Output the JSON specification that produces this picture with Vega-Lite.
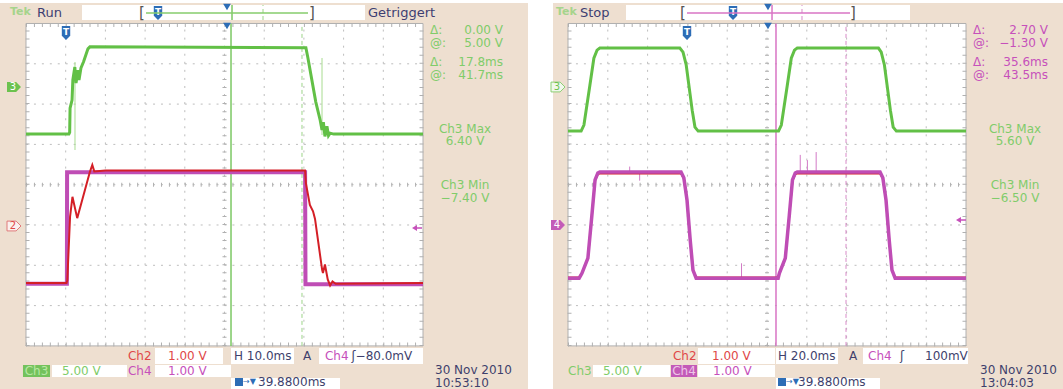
{
"$schema":"https://vega.github.io/schema/vega-lite/v6.json",
"background":"#ffffff",
"padding":0,
"autosize":{"type":"pad"},
"bounds":"flush",
"spacing":23,
"config":{"view":{"stroke":null},"font":"DejaVu Sans"},
"hconcat":[
{
"width":530,"height":389,
"encoding":{"x":{"field":"x","type":"quantitative","scale":{"domain":[-0.6549,12.695],"nice":false,"zero":false},"axis":null},"y":{"field":"y","type":"quantitative","scale":{"domain":[-5.0695,4.5831],"nice":false,"zero":false},"axis":null}},
"layer":[
{"data":{"values":[{"x":-0.6549,"x2":12.645,"y":-5.0695,"y2":4.509}]},"mark":{"type":"rect","color":"#eedfd0"},"encoding":{"x2":{"field":"x2"},"y2":{"field":"y2"}}},
{"data":{"values":[{"x":1.411,"x2":8.539,"y":4.087,"y2":4.459},{"x":3.249,"x2":4.962,"y":-4.449,"y2":-4.052},{"x":5.164,"x2":6.751,"y":-4.449,"y2":-4.052},{"x":7.38,"x2":10.0,"y":-4.449,"y2":-4.052},{"x":0.655,"x2":2.544,"y":-4.772,"y2":-4.474},{"x":3.249,"x2":5.164,"y":-4.772,"y2":-4.474},{"x":5.164,"x2":7.909,"y":-5.0695,"y2":-4.797}]},"mark":{"type":"rect","color":"#ffffff"},"encoding":{"x2":{"field":"x2"},"y2":{"field":"y2"}}},
{"data":{"values":[{"x":-0.076,"x2":0.605,"y":-4.772,"y2":-4.474}]},"mark":{"type":"rect","color":"#74c25c"},"encoding":{"x2":{"field":"x2"},"y2":{"field":"y2"}}},
{"data":{"values":[{"x":0,"x2":10,"y":-4,"y2":4}]},"mark":{"type":"rect","fill":"#ffffff","stroke":"#b0b0b0","strokeWidth":1},"encoding":{"x2":{"field":"x2"},"y2":{"field":"y2"}}},
{"data":{"values":[{"x":1,"y":-4,"y2":4},{"x":2,"y":-4,"y2":4},{"x":3,"y":-4,"y2":4},{"x":4,"y":-4,"y2":4},{"x":5,"y":-4,"y2":4},{"x":6,"y":-4,"y2":4},{"x":7,"y":-4,"y2":4},{"x":8,"y":-4,"y2":4},{"x":9,"y":-4,"y2":4}]},"mark":{"type":"rule","color":"#bdbdbd","strokeDash":[2,6.06]},"encoding":{"y2":{"field":"y2"}}},
{"data":{"values":[{"y":-3,"x":0,"x2":10},{"y":-2,"x":0,"x2":10},{"y":-1,"x":0,"x2":10},{"y":0,"x":0,"x2":10},{"y":1,"x":0,"x2":10},{"y":2,"x":0,"x2":10},{"y":3,"x":0,"x2":10}]},"mark":{"type":"rule","color":"#bdbdbd","strokeDash":[2,5.94]},"encoding":{"x2":{"field":"x2"}}},
{"data":{"values":[{"y":0,"x":0,"x2":10},{"y":3.963,"x":0,"x2":10},{"y":-3.963,"x":0,"x2":10}]},"mark":{"type":"rule","color":"#b0b0b0","strokeWidth":4,"strokeDash":[1,6.94]},"encoding":{"x2":{"field":"x2"}}},
{"data":{"values":[{"x":5,"y":-4,"y2":4},{"x":0.038,"y":-4,"y2":4},{"x":9.962,"y":-4,"y2":4}]},"mark":{"type":"rule","color":"#b0b0b0","strokeWidth":4,"strokeDash":[1,7.06]},"encoding":{"y2":{"field":"y2"}}},
{"data":{"values":[{"x":5.164,"y":-4,"y2":4},{"x":5.189,"y":4.087,"y2":4.459}]},"mark":{"type":"rule","color":"#7cc864","strokeWidth":1.5},"encoding":{"y2":{"field":"y2"}}},
{"data":{"values":[{"x":6.952,"y":-4,"y2":4},{"x":5.97,"y":4.087,"y2":4.459}]},"mark":{"type":"rule","color":"#9cd488","strokeWidth":1,"strokeDash":[4,3]},"encoding":{"y2":{"field":"y2"}}},
{"data":{"values":[{"x":1.234,"y":0.861,"y2":3.045},{"x":7.456,"y":1.233,"y2":3.144}]},"mark":{"type":"rule","color":"#a8dc90","strokeWidth":1},"encoding":{"y2":{"field":"y2"}}},
{"data":{"values":[{"x":0,"y":-2.46},{"x":1.03,"y":-2.46},{"x":1.035,"y":0.31},{"x":7.03,"y":0.31},{"x":7.04,"y":-2.47},{"x":10,"y":-2.47}]},"mark":{"type":"line","color":"#bf4db5","strokeWidth":4},"encoding":{"order":{"value":null}}},
{"data":{"values":[{"x":0,"y":-2.44},{"x":1.02,"y":-2.44},{"x":1.04,"y":-2.38},{"x":1.11,"y":-0.79},{"x":1.17,"y":-0.3},{"x":1.29,"y":-0.83},{"x":1.61,"y":0.32},{"x":1.67,"y":0.49},{"x":1.72,"y":0.33},{"x":2.0,"y":0.35},{"x":7.03,"y":0.35},{"x":7.05,"y":0.04},{"x":7.15,"y":-0.5},{"x":7.23,"y":-0.66},{"x":7.28,"y":-0.85},{"x":7.46,"y":-2.12},{"x":7.48,"y":-2.19},{"x":7.53,"y":-1.98},{"x":7.6,"y":-2.35},{"x":7.66,"y":-2.5},{"x":7.72,"y":-2.4},{"x":7.8,"y":-2.46},{"x":10,"y":-2.44}]},"mark":{"type":"line","color":"#d41f26","strokeWidth":2},"encoding":{"order":{"value":null}}},
{"data":{"values":[{"x":0,"y":1.256},{"x":1.08,"y":1.256},{"x":1.1,"y":1.3},{"x":1.11,"y":1.9},{"x":1.16,"y":2.1},{"x":1.18,"y":2.6},{"x":1.23,"y":2.92},{"x":1.26,"y":2.52},{"x":1.31,"y":2.84},{"x":1.335,"y":2.6},{"x":1.385,"y":2.9},{"x":1.45,"y":3.05},{"x":1.56,"y":3.37},{"x":1.61,"y":3.42},{"x":7.05,"y":3.4},{"x":7.1,"y":3.15},{"x":7.3,"y":2.05},{"x":7.41,"y":1.6},{"x":7.456,"y":1.36},{"x":7.49,"y":1.55},{"x":7.53,"y":1.2},{"x":7.58,"y":1.45},{"x":7.62,"y":1.22},{"x":7.66,"y":1.28},{"x":7.75,"y":1.256},{"x":10,"y":1.256}]},"mark":{"type":"line","color":"#62c046","strokeWidth":3},"encoding":{"order":{"value":null}}},
{"data":{"values":[{"x":1.008,"y":3.764},{"x":3.325,"y":4.261}]},"mark":{"type":"point","shape":"M-0.6,-1L0.6,-1L0.6,0.4L0,1L-0.6,0.4Z","size":196,"filled":true,"color":"#2d6db6","opacity":1}},
{"data":{"values":[{"x":1.008,"y":3.8,"t":"T"},{"x":3.325,"y":4.297,"t":"T"}]},"mark":{"type":"text","color":"#ffffff","fontSize":9,"fontWeight":"bold","baseline":"middle","align":"center"},"encoding":{"text":{"field":"t"}}},
{"data":{"values":[{"x":5.063,"y":3.938},{"x":5.063,"y":4.409}]},"mark":{"type":"point","shape":"triangle-down","size":60,"filled":true,"color":"#2d6db6","opacity":1}},
{"data":{"values":[{"x":3.023,"x2":7.103,"y":4.261}]},"mark":{"type":"rule","color":"#86cc6c","strokeWidth":1.5},"encoding":{"x2":{"field":"x2"}}},
{"data":{"values":[{"x":2.922,"y":4.261,"t":"["},{"x":7.204,"y":4.261,"t":"]"}]},"mark":{"type":"text","color":"#555555","fontSize":15,"baseline":"middle","align":"center"},"encoding":{"text":{"field":"t"}}},
{"data":{"values":[{"x":-0.302,"y":2.424}]},"mark":{"type":"point","shape":"M-1,-0.7L0.3,-0.7L1,0L0.3,0.7L-1,0.7Z","size":196,"filled":true,"color":"#6cc24e","opacity":1}},
{"data":{"values":[{"x":-0.302,"y":-1.025}]},"mark":{"type":"point","shape":"M-1,-0.7L0.3,-0.7L1,0L0.3,0.7L-1,0.7Z","size":196,"filled":true,"fill":"#fbf0ee","stroke":"#e07a7a","strokeWidth":1,"opacity":1}},
{"data":{"values":[{"x":9.849,"y":-1.074}]},"mark":{"type":"point","shape":"M1,-0.15L0,-0.15L0,-0.6L-1,0L0,0.6L0,0.15L1,0.15Z","size":100,"filled":true,"color":"#c650bb","opacity":1}},
{"data":{"values":[{"x":-0.33,"y":2.424,"t":"3"}]},"mark":{"type":"text","color":"#ffffff","fontSize":10,"baseline":"middle","align":"center"},"encoding":{"text":{"field":"t"}}},
{"data":{"values":[{"x":-0.33,"y":-1.025,"t":"2"}]},"mark":{"type":"text","color":"#e04848","fontSize":10,"baseline":"middle","align":"center"},"encoding":{"text":{"field":"t"}}},
{"data":{"values":[{"x":0.264,"y":-4.623,"t":"Ch3"}]},"mark":{"type":"text","color":"#b8e8a4","fontSize":12,"baseline":"middle","align":"center"},"encoding":{"text":{"field":"t"}}},
{"data":{"values":[{"x":5.365,"y":-4.896}]},"mark":{"type":"point","shape":"square","size":64,"filled":true,"color":"#2d6db6","opacity":1}},
{"data":{"values":[{"x":5.466,"y":-4.896,"t":"→▼"}]},"mark":{"type":"text","color":"#2d6db6","fontSize":8,"baseline":"middle","align":"left"},"encoding":{"text":{"field":"t"}}},
{"data":{"values":[{"x":-0.403,"y":4.285,"t":"Tek"}]},"mark":{"type":"text","color":"#a6d48c","fontSize":11,"fontWeight":"bold","baseline":"middle","align":"left"},"encoding":{"text":{"field":"t"}}},
{"data":{"values":[{"x":0.277,"y":4.261,"t":"Run"},{"x":8.615,"y":4.261,"t":"Getriggert"}]},"mark":{"type":"text","color":"#3d3e72","fontSize":13,"baseline":"middle","align":"left"},"encoding":{"text":{"field":"t"}}},
{"data":{"values":[{"x":10.176,"y":3.839,"t":"Δ:","ch":"Ch3"},{"x":10.176,"y":3.516,"t":"@:","ch":"Ch3"},{"x":10.176,"y":3.045,"t":"Δ:","ch":"Ch3"},{"x":10.176,"y":2.722,"t":"@:","ch":"Ch3"},{"x":2.569,"y":-4.251,"t":"Ch2","ch":"Ch2"},{"x":3.577,"y":-4.251,"t":"1.00 V","ch":"Ch2"},{"x":5.239,"y":-4.251,"t":"H 10.0ms","ch":"ui"},{"x":6.977,"y":-4.251,"t":"A","ch":"ui"},{"x":7.531,"y":-4.251,"t":"Ch4","ch":"Ch4"},{"x":8.2,"y":-4.251,"t":"ʃ−80.0mV","ch":"ui"},{"x":0.907,"y":-4.623,"t":"5.00 V","ch":"Ch3"},{"x":2.569,"y":-4.623,"t":"Ch4","ch":"Ch4"},{"x":3.577,"y":-4.623,"t":"1.00 V","ch":"Ch4"},{"x":10.302,"y":-4.598,"t":"30 Nov 2010","ch":"ui"},{"x":5.844,"y":-4.896,"t":"39.8800ms","ch":"ui"},{"x":10.302,"y":-4.92,"t":"10:53:10","ch":"ui"}]},"mark":{"type":"text","align":"left","baseline":"middle","fontSize":12},"encoding":{"text":{"field":"t"},"color":{"field":"ch","type":"nominal","scale":{"domain":["Ch2","Ch3","Ch4","ui"],"range":["#e04848","#80cc6a","#c650bb","#3e3f6c"]},"legend":null}}},
{"data":{"values":[{"x":12.015,"y":3.839,"t":"0.00 V","ch":"Ch3"},{"x":12.015,"y":3.516,"t":"5.00 V","ch":"Ch3"},{"x":12.015,"y":3.045,"t":"17.8ms","ch":"Ch3"},{"x":12.015,"y":2.722,"t":"41.7ms","ch":"Ch3"}]},"mark":{"type":"text","align":"right","baseline":"middle","fontSize":12},"encoding":{"text":{"field":"t"},"color":{"field":"ch","type":"nominal","scale":{"domain":["Ch2","Ch3","Ch4","ui"],"range":["#e04848","#80cc6a","#c650bb","#3e3f6c"]},"legend":null}}},
{"data":{"values":[{"x":11.058,"y":1.382,"t":"Ch3 Max","ch":"Ch3"},{"x":11.058,"y":1.084,"t":"6.40 V","ch":"Ch3"},{"x":11.058,"y":-0.007,"t":"Ch3 Min","ch":"Ch3"},{"x":11.058,"y":-0.33,"t":"−7.40 V","ch":"Ch3"}]},"mark":{"type":"text","align":"center","baseline":"middle","fontSize":12},"encoding":{"text":{"field":"t"},"color":{"field":"ch","type":"nominal","scale":{"domain":["Ch2","Ch3","Ch4","ui"],"range":["#e04848","#80cc6a","#c650bb","#3e3f6c"]},"legend":null}}}
]
},
{
"width":510,"height":389,
"encoding":{"x":{"field":"x","type":"quantitative","scale":{"domain":[-0.3769,12.437],"nice":false,"zero":false},"axis":null},"y":{"field":"y","type":"quantitative","scale":{"domain":[-5.0695,4.5831],"nice":false,"zero":false},"axis":null}},
"layer":[
{"data":{"values":[{"x":-0.3769,"x2":12.437,"y":-5.0695,"y2":4.509}]},"mark":{"type":"rect","color":"#eedfd0"},"encoding":{"x2":{"field":"x2"},"y2":{"field":"y2"}}},
{"data":{"values":[{"x":1.457,"x2":8.593,"y":4.087,"y2":4.459},{"x":3.266,"x2":5.201,"y":-4.449,"y2":-4.052},{"x":5.226,"x2":6.784,"y":-4.449,"y2":-4.052},{"x":7.412,"x2":10.05,"y":-4.449,"y2":-4.052},{"x":0.628,"x2":2.563,"y":-4.772,"y2":-4.474},{"x":3.266,"x2":5.201,"y":-4.772,"y2":-4.474},{"x":5.226,"x2":7.839,"y":-5.0695,"y2":-4.797}]},"mark":{"type":"rect","color":"#ffffff"},"encoding":{"x2":{"field":"x2"},"y2":{"field":"y2"}}},
{"data":{"values":[{"x":2.588,"x2":3.241,"y":-4.772,"y2":-4.474}]},"mark":{"type":"rect","color":"#c35bb8"},"encoding":{"x2":{"field":"x2"},"y2":{"field":"y2"}}},
{"data":{"values":[{"x":0,"x2":10,"y":-4,"y2":4}]},"mark":{"type":"rect","fill":"#ffffff","stroke":"#b0b0b0","strokeWidth":1},"encoding":{"x2":{"field":"x2"},"y2":{"field":"y2"}}},
{"data":{"values":[{"x":1,"y":-4,"y2":4},{"x":2,"y":-4,"y2":4},{"x":3,"y":-4,"y2":4},{"x":4,"y":-4,"y2":4},{"x":5,"y":-4,"y2":4},{"x":6,"y":-4,"y2":4},{"x":7,"y":-4,"y2":4},{"x":8,"y":-4,"y2":4},{"x":9,"y":-4,"y2":4}]},"mark":{"type":"rule","color":"#bdbdbd","strokeDash":[2,6.06]},"encoding":{"y2":{"field":"y2"}}},
{"data":{"values":[{"y":-3,"x":0,"x2":10},{"y":-2,"x":0,"x2":10},{"y":-1,"x":0,"x2":10},{"y":0,"x":0,"x2":10},{"y":1,"x":0,"x2":10},{"y":2,"x":0,"x2":10},{"y":3,"x":0,"x2":10}]},"mark":{"type":"rule","color":"#bdbdbd","strokeDash":[2,5.96]},"encoding":{"x2":{"field":"x2"}}},
{"data":{"values":[{"y":0,"x":0,"x2":10},{"y":3.963,"x":0,"x2":10},{"y":-3.963,"x":0,"x2":10}]},"mark":{"type":"rule","color":"#b0b0b0","strokeWidth":4,"strokeDash":[1,6.96]},"encoding":{"x2":{"field":"x2"}}},
{"data":{"values":[{"x":5,"y":-4,"y2":4},{"x":0.038,"y":-4,"y2":4},{"x":9.962,"y":-4,"y2":4}]},"mark":{"type":"rule","color":"#b0b0b0","strokeWidth":4,"strokeDash":[1,7.06]},"encoding":{"y2":{"field":"y2"}}},
{"data":{"values":[{"x":5.226,"y":-4,"y2":4},{"x":5.126,"y":4.087,"y2":4.459}]},"mark":{"type":"rule","color":"#d874c4","strokeWidth":1.5},"encoding":{"y2":{"field":"y2"}}},
{"data":{"values":[{"x":6.985,"y":-4,"y2":4},{"x":5.879,"y":4.087,"y2":4.459}]},"mark":{"type":"rule","color":"#d88ac8","strokeWidth":1,"strokeDash":[4,3]},"encoding":{"y2":{"field":"y2"}}},
{"data":{"values":[{"x":5.835,"y":0.315,"y2":0.74},{"x":6.015,"y":0.315,"y2":0.61},{"x":6.235,"y":0.315,"y2":0.81},{"x":4.36,"y":-2.32,"y2":-1.95},{"x":1.55,"y":0.315,"y2":0.45},{"x":1.8,"y":0.315,"y2":0.1}]},"mark":{"type":"rule","color":"#d27ac6","strokeWidth":1},"encoding":{"y2":{"field":"y2"}}},
{"data":{"values":[{"x":0,"y":-2.3},{"x":0.28,"y":-2.3},{"x":0.35,"y":-2.2},{"x":0.5,"y":-1.82},{"x":0.6,"y":-0.76},{"x":0.68,"y":0.1},{"x":0.75,"y":0.26},{"x":0.8,"y":0.28},{"x":2.84,"y":0.28},{"x":2.91,"y":0.15},{"x":2.99,"y":-0.38},{"x":3.07,"y":-1.37},{"x":3.14,"y":-2.12},{"x":3.22,"y":-2.3},{"x":5.28,"y":-2.3},{"x":5.31,"y":-2.2},{"x":5.46,"y":-1.82},{"x":5.56,"y":-0.76},{"x":5.64,"y":0.1},{"x":5.71,"y":0.26},{"x":5.76,"y":0.28},{"x":7.84,"y":0.28},{"x":7.91,"y":0.15},{"x":7.99,"y":-0.38},{"x":8.07,"y":-1.37},{"x":8.14,"y":-2.12},{"x":8.22,"y":-2.3},{"x":10,"y":-2.3}]},"mark":{"type":"line","color":"#d41f26","strokeWidth":2},"encoding":{"order":{"value":null}}},
{"data":{"values":[{"x":0,"y":-2.32},{"x":0.28,"y":-2.32},{"x":0.35,"y":-2.2},{"x":0.5,"y":-1.82},{"x":0.6,"y":-0.76},{"x":0.68,"y":0.12},{"x":0.75,"y":0.29},{"x":0.8,"y":0.315},{"x":2.84,"y":0.315},{"x":2.91,"y":0.17},{"x":2.99,"y":-0.38},{"x":3.07,"y":-1.37},{"x":3.14,"y":-2.12},{"x":3.22,"y":-2.32},{"x":5.28,"y":-2.32},{"x":5.31,"y":-2.2},{"x":5.46,"y":-1.82},{"x":5.56,"y":-0.76},{"x":5.64,"y":0.12},{"x":5.71,"y":0.29},{"x":5.76,"y":0.315},{"x":7.84,"y":0.315},{"x":7.91,"y":0.17},{"x":7.99,"y":-0.38},{"x":8.07,"y":-1.37},{"x":8.14,"y":-2.12},{"x":8.22,"y":-2.32},{"x":10,"y":-2.32}]},"mark":{"type":"line","color":"#bf4db5","strokeWidth":3.5},"encoding":{"order":{"value":null}}},
{"data":{"values":[{"x":0,"y":1.33},{"x":0.33,"y":1.33},{"x":0.4,"y":1.48},{"x":0.55,"y":2.47},{"x":0.65,"y":3.14},{"x":0.73,"y":3.34},{"x":0.8,"y":3.39},{"x":2.81,"y":3.39},{"x":2.89,"y":3.29},{"x":2.97,"y":2.97},{"x":3.12,"y":1.85},{"x":3.19,"y":1.43},{"x":3.27,"y":1.33},{"x":5.29,"y":1.33},{"x":5.36,"y":1.48},{"x":5.51,"y":2.47},{"x":5.61,"y":3.14},{"x":5.69,"y":3.34},{"x":5.76,"y":3.39},{"x":7.8,"y":3.39},{"x":7.87,"y":3.29},{"x":7.95,"y":2.97},{"x":8.1,"y":1.85},{"x":8.17,"y":1.43},{"x":8.25,"y":1.33},{"x":10,"y":1.33}]},"mark":{"type":"line","color":"#62c046","strokeWidth":3},"encoding":{"order":{"value":null}}},
{"data":{"values":[{"x":2.99,"y":3.764},{"x":4.146,"y":4.261}]},"mark":{"type":"point","shape":"M-0.6,-1L0.6,-1L0.6,0.4L0,1L-0.6,0.4Z","size":196,"filled":true,"color":"#2d6db6","opacity":1}},
{"data":{"values":[{"x":2.99,"y":3.8,"t":"T"},{"x":4.146,"y":4.297,"t":"T"}]},"mark":{"type":"text","color":"#ffffff","fontSize":9,"fontWeight":"bold","baseline":"middle","align":"center"},"encoding":{"text":{"field":"t"}}},
{"data":{"values":[{"x":5.025,"y":3.938},{"x":5.025,"y":4.409}]},"mark":{"type":"point","shape":"triangle-down","size":60,"filled":true,"color":"#2d6db6","opacity":1}},
{"data":{"values":[{"x":2.99,"x2":7.085,"y":4.261}]},"mark":{"type":"rule","color":"#d874c4","strokeWidth":1.5},"encoding":{"x2":{"field":"x2"}}},
{"data":{"values":[{"x":2.889,"y":4.261,"t":"["},{"x":7.161,"y":4.261,"t":"]"}]},"mark":{"type":"text","color":"#555555","fontSize":15,"baseline":"middle","align":"center"},"encoding":{"text":{"field":"t"}}},
{"data":{"values":[{"x":-0.251,"y":2.424}]},"mark":{"type":"point","shape":"M-1,-0.7L0.3,-0.7L1,0L0.3,0.7L-1,0.7Z","size":196,"filled":true,"fill":"#f1f8ec","stroke":"#8ccf74","strokeWidth":1,"opacity":1}},
{"data":{"values":[{"x":-0.251,"y":-1.0}]},"mark":{"type":"point","shape":"M-1,-0.7L0.3,-0.7L1,0L0.3,0.7L-1,0.7Z","size":196,"filled":true,"color":"#c35bb8","opacity":1}},
{"data":{"values":[{"x":9.874,"y":-0.876}]},"mark":{"type":"point","shape":"M1,-0.15L0,-0.15L0,-0.6L-1,0L0,0.6L0,0.15L1,0.15Z","size":100,"filled":true,"color":"#c650bb","opacity":1}},
{"data":{"values":[{"x":-0.28,"y":2.424,"t":"3"}]},"mark":{"type":"text","color":"#6cc24e","fontSize":10,"baseline":"middle","align":"center"},"encoding":{"text":{"field":"t"}}},
{"data":{"values":[{"x":-0.28,"y":-1.0,"t":"4"}]},"mark":{"type":"text","color":"#ffffff","fontSize":10,"baseline":"middle","align":"center"},"encoding":{"text":{"field":"t"}}},
{"data":{"values":[{"x":2.915,"y":-4.623,"t":"Ch4"}]},"mark":{"type":"text","color":"#eec6e8","fontSize":12,"baseline":"middle","align":"center"},"encoding":{"text":{"field":"t"}}},
{"data":{"values":[{"x":5.377,"y":-4.896}]},"mark":{"type":"point","shape":"square","size":64,"filled":true,"color":"#2d6db6","opacity":1}},
{"data":{"values":[{"x":5.477,"y":-4.896,"t":"→▼"}]},"mark":{"type":"text","color":"#2d6db6","fontSize":8,"baseline":"middle","align":"left"},"encoding":{"text":{"field":"t"}}},
{"data":{"values":[{"x":-0.302,"y":4.285,"t":"Tek"}]},"mark":{"type":"text","color":"#a6d48c","fontSize":11,"fontWeight":"bold","baseline":"middle","align":"left"},"encoding":{"text":{"field":"t"}}},
{"data":{"values":[{"x":0.302,"y":4.261,"t":"Stop"}]},"mark":{"type":"text","color":"#3d3e72","fontSize":13,"baseline":"middle","align":"left"},"encoding":{"text":{"field":"t"}}},
{"data":{"values":[{"x":10.176,"y":3.839,"t":"Δ:","ch":"Ch4"},{"x":10.176,"y":3.516,"t":"@:","ch":"Ch4"},{"x":10.176,"y":3.045,"t":"Δ:","ch":"Ch4"},{"x":10.176,"y":2.722,"t":"@:","ch":"Ch4"},{"x":2.638,"y":-4.251,"t":"Ch2","ch":"Ch2"},{"x":3.618,"y":-4.251,"t":"1.00 V","ch":"Ch2"},{"x":5.276,"y":-4.251,"t":"H 20.0ms","ch":"ui"},{"x":7.06,"y":-4.251,"t":"A","ch":"ui"},{"x":7.538,"y":-4.251,"t":"Ch4","ch":"Ch4"},{"x":8.342,"y":-4.251,"t":"ʃ","ch":"ui"},{"x":8.97,"y":-4.251,"t":"100mV","ch":"ui"},{"x":0.0,"y":-4.623,"t":"Ch3","ch":"Ch3"},{"x":0.879,"y":-4.623,"t":"5.00 V","ch":"Ch3"},{"x":3.643,"y":-4.623,"t":"1.00 V","ch":"Ch4"},{"x":10.352,"y":-4.598,"t":"30 Nov 2010","ch":"ui"},{"x":5.779,"y":-4.896,"t":"39.8800ms","ch":"ui"},{"x":10.352,"y":-4.92,"t":"13:04:03","ch":"ui"}]},"mark":{"type":"text","align":"left","baseline":"middle","fontSize":12},"encoding":{"text":{"field":"t"},"color":{"field":"ch","type":"nominal","scale":{"domain":["Ch2","Ch3","Ch4","ui"],"range":["#e04848","#80cc6a","#c650bb","#3e3f6c"]},"legend":null}}},
{"data":{"values":[{"x":12.06,"y":3.839,"t":"2.70 V","ch":"Ch4"},{"x":12.06,"y":3.516,"t":"−1.30 V","ch":"Ch4"},{"x":12.06,"y":3.045,"t":"35.6ms","ch":"Ch4"},{"x":12.06,"y":2.722,"t":"43.5ms","ch":"Ch4"}]},"mark":{"type":"text","align":"right","baseline":"middle","fontSize":12},"encoding":{"text":{"field":"t"},"color":{"field":"ch","type":"nominal","scale":{"domain":["Ch2","Ch3","Ch4","ui"],"range":["#e04848","#80cc6a","#c650bb","#3e3f6c"]},"legend":null}}},
{"data":{"values":[{"x":11.231,"y":1.382,"t":"Ch3 Max","ch":"Ch3"},{"x":11.231,"y":1.084,"t":"5.60 V","ch":"Ch3"},{"x":11.231,"y":-0.007,"t":"Ch3 Min","ch":"Ch3"},{"x":11.231,"y":-0.33,"t":"−6.50 V","ch":"Ch3"}]},"mark":{"type":"text","align":"center","baseline":"middle","fontSize":12},"encoding":{"text":{"field":"t"},"color":{"field":"ch","type":"nominal","scale":{"domain":["Ch2","Ch3","Ch4","ui"],"range":["#e04848","#80cc6a","#c650bb","#3e3f6c"]},"legend":null}}}
]
}
]
}
